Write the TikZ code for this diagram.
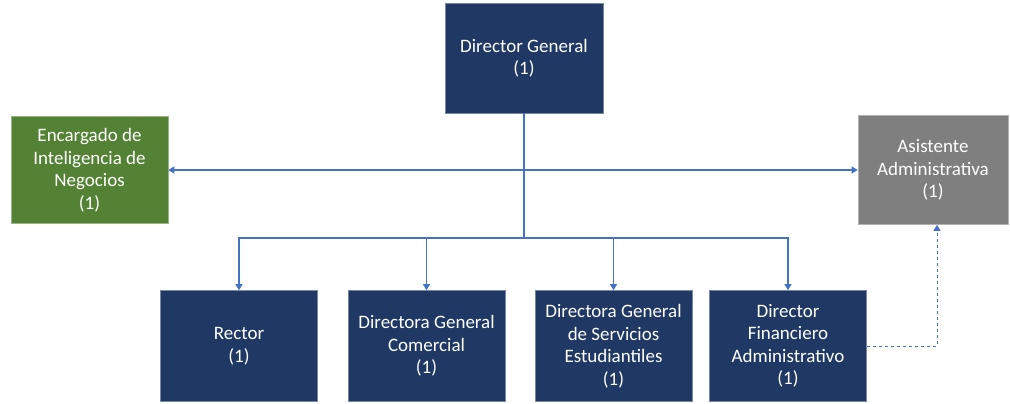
\documentclass[tikz,border=0pt]{standalone}
\usepackage{fontspec}
\setmainfont{Carlito}
\usetikzlibrary{arrows.meta, positioning}

\definecolor{navy}{HTML}{1F3864}
\definecolor{leaf}{HTML}{548235}
\definecolor{ash}{HTML}{7F7F7F}
\definecolor{wire}{HTML}{4472C4}

\tikzset{
    post/.style={fill=navy, draw=navy!60, line width=0.6pt, text=white, align=center,
        minimum width=157pt, minimum height=111pt, inner sep=2pt,
        font=\fontsize{19}{22.5}\selectfont},
    link/.style={draw=wire, line width=1.2pt, -{Triangle[width=7pt,length=6pt]}}
}

\begin{document}
\begin{tikzpicture}[x=1pt, y=-1pt]
    % Fix the page to the size of the chart
    \useasboundingbox (0,0) rectangle (1010,404);

    % Head of the chart
    \node[post, minimum width=158pt, minimum height=110pt] (dg) at (524,58) {Director General\\(1)};

    % Staff posts on both sides
    \node[post, fill=leaf, draw=leaf!60, minimum height=107pt] (eng) at (89.5,170) {Encargado de\\Inteligencia de\\Negocios\\(1)};
    \node[post, fill=ash, draw=ash!60, minimum width=150pt, minimum height=109pt] (asis) at (933,170) {Asistente\\Administrativa\\(1)};

    % Line posts in the bottom row
    \node[post] (rector) at (239,346) {Rector\\(1)};
    \node[post] (comercial) at (426.5,346) {Directora General\\Comercial\\(1)};
    \node[post] (servicios) at (613.5,346) {Directora General\\de Servicios\\Estudiantiles\\(1)};
    \node[post] (financiero) at (788,346) {Director\\Financiero\\Administrativo\\(1)};

    % Where the trunk meets the bus
    \coordinate (bus) at (524,238);

    % Connectors
    \draw[link, {Triangle[width=7pt,length=6pt]}-{Triangle[width=7pt,length=6pt]}] (eng) -- (asis);
    \draw[link, -] (dg) -- (bus);
    \draw[link] (bus) -| (rector);
    \draw[link] (bus) -| (comercial);
    \draw[link] (bus) -| (servicios);
    \draw[link] (bus) -| (financiero);
    \draw[link, dashed, line width=1pt] (financiero.east) -| ([xshift=4pt]asis.south);
\end{tikzpicture}
\end{document}
